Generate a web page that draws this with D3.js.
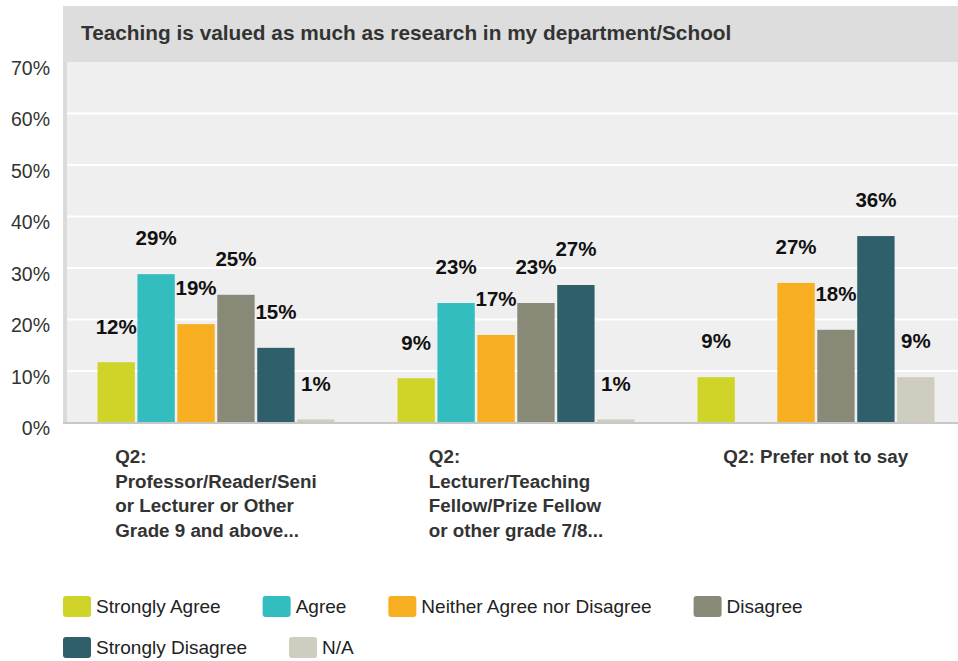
<!DOCTYPE html>
<html>
<head>
<meta charset="utf-8">
<script src="https://cdn.jsdelivr.net/npm/d3@7"></script>
<style>
  body { margin: 0; background: #fff; }
  svg { font-family: Arial, "Liberation Sans", sans-serif; }
</style>
</head>
<body>
<script>
var width = 958,
    height = 661;

var title = "Teaching is valued as much as research in my department/School";

var groups = ["prof", "lect", "pnts"];
var groupLabels = [
    ["Q2:", "Professor/Reader/Seni", "or Lecturer or Other", "Grade 9 and above..."],
    ["Q2:", "Lecturer/Teaching", "Fellow/Prize Fellow", "or other grade 7/8..."],
    ["Q2: Prefer not to say"]
];

var series = ["Strongly Agree", "Agree", "Neither Agree nor Disagree", "Disagree", "Strongly Disagree", "N/A"];
var color = ["#d0d428", "#33bdbf", "#f7ae20", "#898977", "#2e5f6b", "#cfcdbf"];

// percent per group (prof, lect, prefer not to say)
var stronglyAgree    = [11.7, 8.6, 8.8];
var agree            = [28.8, 23.2, null];
var neither          = [19.1, 17.0, 27.1];
var disagree         = [24.8, 23.2, 18.0];
var stronglyDisagree = [14.5, 26.7, 36.2];
var na               = [0.6, 0.6, 8.8];

var yTicks = [0, 10, 20, 30, 40, 50, 60, 70];

var values = [stronglyAgree, agree, neither, disagree, stronglyDisagree, na];

var plot = { left: 66, top: 62, right: 958, bottom: 422.5 };

var svg = d3.select("body").append("svg")
    .attr("width", width)
    .attr("height", height);

// title band
svg.append("rect")
    .attr("x", 63).attr("y", 6)
    .attr("width", width - 63).attr("height", plot.top - 6)
    .attr("fill", "#dddddd");

svg.append("text")
    .attr("x", 81).attr("y", 39.5)
    .attr("font-size", "20.8px")
    .attr("font-weight", "bold")
    .attr("fill", "#333")
    .text(title);

// plot background
svg.append("rect")
    .attr("x", plot.left).attr("y", plot.top)
    .attr("width", plot.right - plot.left).attr("height", plot.bottom - plot.top)
    .attr("fill", "#efefef");

svg.append("rect")
    .attr("x", 63).attr("y", plot.top)
    .attr("width", 4).attr("height", plot.bottom - plot.top)
    .attr("fill", "#dadada");

var y = d3.scaleLinear()
    .domain([0, 70])
    .range([plot.bottom, plot.top]);

var x0 = d3.scaleBand()
    .domain(groups)
    .range([plot.left, plot.left + 900]);

var x1 = d3.scaleBand()
    .domain(series)
    .range([31.5, 268.5])
    .paddingInner(0.065)
    .paddingOuter(0);

// gridlines
svg.append("g")
    .selectAll("line")
    .data(yTicks.filter(function (d) { return d > 0 && d < 70; }))
    .enter().append("line")
    .attr("x1", plot.left + 1).attr("x2", plot.right)
    .attr("y1", function (d) { return y(d); })
    .attr("y2", function (d) { return y(d); })
    .attr("stroke", "#fff")
    .attr("stroke-width", 2);

// y axis labels
var yAxis = d3.axisLeft(y)
    .tickValues(yTicks)
    .tickFormat(function (d) { return d + "%"; })
    .tickSize(0)
    .tickPadding(0);

var ya = svg.append("g")
    .attr("transform", "translate(50,6)")
    .call(yAxis);
ya.select(".domain").remove();
ya.selectAll("text")
    .attr("font-size", "19.5px")
    .attr("font-family", "Arial, 'Liberation Sans', sans-serif")
    .attr("fill", "#333");

// bars
var rows = [];
groups.forEach(function (g, gi) {
    series.forEach(function (s, si) {
        var v = values[si][gi];
        if (v != null) rows.push({ group: g, series: s, si: si, value: v });
    });
});

var bars = svg.append("g");

bars.selectAll("rect")
    .data(rows)
    .enter().append("rect")
    .attr("x", function (d) { return x0(d.group) + x1(d.series); })
    .attr("y", function (d) { return y(d.value); })
    .attr("width", x1.bandwidth())
    .attr("height", function (d) { return y(0) - y(d.value); })
    .attr("fill", function (d) { return color[d.si]; });

bars.selectAll("text")
    .data(rows)
    .enter().append("text")
    .attr("x", function (d) { return x0(d.group) + x1(d.series) + x1.bandwidth() / 2; })
    .attr("y", function (d) { return y(d.value) - 28.7; })
    .attr("text-anchor", "middle")
    .attr("font-size", "20.5px")
    .attr("font-weight", "bold")
    .attr("fill", "#111")
    .text(function (d) { return Math.round(d.value) + "%"; });

// baseline
svg.append("line")
    .attr("x1", 63).attr("x2", plot.right)
    .attr("y1", plot.bottom + 0.5).attr("y2", plot.bottom + 0.5)
    .attr("stroke", "#c8c8c8")
    .attr("stroke-width", 2);

// category labels (left aligned block, centred under group)
groups.forEach(function (g, gi) {
    var cx = x0(g) + x0.bandwidth() / 2;
    var t = svg.append("text")
        .attr("font-size", "18.8px")
        .attr("font-weight", "bold")
        .attr("fill", "#333");
    groupLabels[gi].forEach(function (line, li) {
        t.append("tspan")
            .attr("x", 0)
            .attr("y", 463 + li * 24.7)
            .text(line);
    });
    var w = t.node().getBBox().width;
    t.attr("transform", "translate(" + (cx - w / 2) + ",0)");
});

// legend
var legend = svg.append("g");
var lx = 63, ly = 596;
series.forEach(function (s, i) {
    var item = legend.append("g");
    item.append("rect")
        .attr("width", 28).attr("height", 21)
        .attr("rx", 3)
        .attr("fill", color[i]);
    var tx = item.append("text")
        .attr("x", 33).attr("y", 17)
        .attr("font-size", "19px")
        .attr("fill", "#222")
        .text(s);
    var w = 33 + tx.node().getComputedTextLength();
    if (lx + w > 940) { lx = 63; ly += 41; }
    item.attr("transform", "translate(" + lx + "," + ly + ")");
    lx += w + 42;
});
</script>
</body>
</html>
